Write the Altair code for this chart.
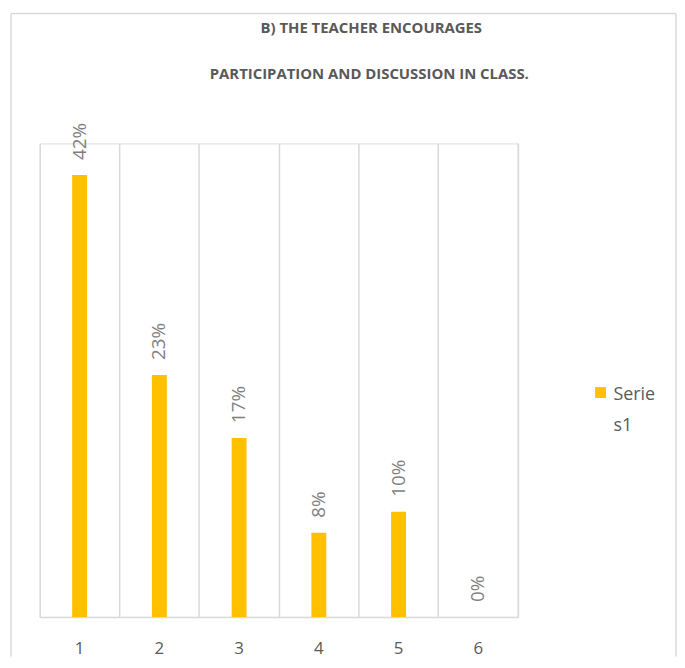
import altair as alt
import pandas as pd

categories = ["1", "2", "3", "4", "5", "6"]
values = [0.42, 0.23, 0.17, 0.08, 0.10, 0.0]
value_labels = ["42%", "23%", "17%", "8%", "10%", "0%"]
series_name = "Series1"
legend_lines = ["Serie", "s1"]
title_lines = ["B) THE TEACHER ENCOURAGES", "PARTICIPATION AND DISCUSSION IN CLASS."]

W, H = 482, 477
GRID = "#d9d9d9"
FONT = "Open Sans"

df = pd.DataFrame({"cat": categories, "value": values, "label": value_labels, "series": series_name})
one = pd.DataFrame({"a": [0]})

x = alt.X(
    "cat:N",
    sort=categories,
    scale=alt.Scale(paddingInner=0, paddingOuter=0),
    axis=alt.Axis(
        title=None, labelAngle=0, grid=True, gridColor=GRID, gridWidth=1.5,
        bandPosition=0, ticks=False,
        domainColor=GRID, domainWidth=1.5, labelFontSize=17, labelFont=FONT,
        labelColor="#595959", labelPadding=24,
    ),
)
y = alt.Y("value:Q", scale=alt.Scale(domain=[0, 0.45]), axis=None)

base = alt.Chart(df)
bars = base.mark_bar(size=15, color="#FFC000").encode(x=x, y=y)
text = base.mark_text(
    angle=270, align="left", baseline="middle", dx=15, fontSize=19,
    color="#7f7f7f", font=FONT,
).encode(x=x, y=y, text="label:N")

right_grid = alt.Chart(one).mark_rule(color=GRID, strokeWidth=1.5).encode(
    x=alt.value(W), y=alt.value(0), y2=alt.value(H)
)

bl, bt, br, bb = -29, -131, 641, 517
border_left = alt.Chart(one).mark_rule(color=GRID, strokeWidth=1.5).encode(
    x=alt.value(bl), y=alt.value(bt), y2=alt.value(bb)
)
border_right = alt.Chart(one).mark_rule(color=GRID, strokeWidth=1.5).encode(
    x=alt.value(br), y=alt.value(bt), y2=alt.value(bb)
)
border_top = alt.Chart(one).mark_rule(color=GRID, strokeWidth=1.5).encode(
    x=alt.value(bl), x2=alt.value(br), y=alt.value(bt)
)

title1 = alt.Chart(one).mark_text(
    align="center", baseline="middle", fontSize=15, font=FONT, fontWeight="bold",
    color="#595959",
).encode(x=alt.value(334), y=alt.value(-116), text=alt.value(title_lines[0]))
title2 = alt.Chart(one).mark_text(
    align="center", baseline="middle", fontSize=15, font=FONT, fontWeight="bold",
    color="#595959",
).encode(x=alt.value(332), y=alt.value(-70), text=alt.value(title_lines[1]))

leg_sq = alt.Chart(one).mark_square(size=121, color="#FFC000", opacity=1).encode(
    x=alt.value(565), y=alt.value(251)
)
leg_txt = alt.Chart(one).mark_text(
    align="left", baseline="alphabetic", lineBreak="\n", lineHeight=32,
    fontSize=18, font=FONT, color="#595959",
).encode(x=alt.value(578), y=alt.value(258), text=alt.value("\n".join(legend_lines)))

chart = alt.layer(
    border_left, border_right, border_top, right_grid, title1, title2,
    bars, text, leg_sq, leg_txt
).properties(
    width=W, height=H,
    padding={"left": 2, "top": 2, "right": 0, "bottom": 0},
).configure_view(stroke=None).configure(background="white")

chart.save("out.html", embed_options={"renderer": "svg", "actions": False})
